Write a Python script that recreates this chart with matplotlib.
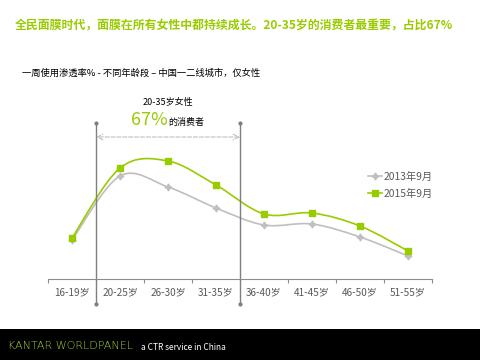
import matplotlib.pyplot as plt
import numpy as np
from matplotlib.path import Path
from matplotlib.patches import PathPatch, Rectangle
from matplotlib.lines import Line2D

plt.rcParams['font.family'] = ['Noto Sans CJK SC', 'DejaVu Sans']

age_groups = ["16-19岁", "20-25岁", "26-30岁", "31-35岁", "36-40岁", "41-45岁", "46-50岁", "51-55岁"]
pen_2013 = [19.5, 51.5, 46.0, 35.5, 27.0, 27.5, 21.0, 11.5]
pen_2015 = [20.5, 55.5, 59.0, 47.0, 32.5, 33.0, 26.5, 14.0]
series_names = ["2013年9月", "2015年9月"]

GREEN = "#99CC00"
GREY = "#BFBFBF"
TEXT = "#595959"


def smooth_path(xs, ys):
    # excel-like smoothed line: catmull-rom segments as cubic beziers
    pts = np.column_stack([xs, ys]).astype(float)
    n = len(pts)
    verts = [pts[0]]
    codes = [Path.MOVETO]
    for i in range(n - 1):
        p0 = pts[max(i - 1, 0)]
        p1 = pts[i]
        p2 = pts[i + 1]
        p3 = pts[min(i + 2, n - 1)]
        c1 = p1 + (p2 - p0) / 6.0
        c2 = p2 - (p3 - p1) / 6.0
        verts += [c1, c2, p2]
        codes += [Path.CURVE4] * 3
    return Path(verts, codes)


fig = plt.figure(figsize=(4.81, 3.6), dpi=100)
ax = fig.add_axes([48 / 481, 81 / 360, 384 / 481, 160 / 360])

x = np.arange(len(age_groups))
ax.add_patch(PathPatch(smooth_path(x, pen_2013), fill=False, edgecolor=GREY, lw=1.2))
ax.add_patch(PathPatch(smooth_path(x, pen_2015), fill=False, edgecolor=GREEN, lw=1.2))
ax.plot(x, pen_2013, linestyle='none', marker=(4, 1, 0), markersize=5, color=GREY)
ax.plot(x, pen_2015, linestyle='none', marker='s', markersize=4.5, color=GREEN)

ax.set_xlim(-0.5, len(age_groups) - 0.5)
ax.set_ylim(0, 80)
for side in ['top', 'right', 'left']:
    ax.spines[side].set_visible(False)
ax.spines['bottom'].set_color('#8C8C8C')
ax.set_yticks([])
ax.set_xticks(np.arange(len(age_groups) + 1) - 0.5, minor=False)
ax.set_xticklabels([])
ax.set_xticks(x, minor=True)
ax.set_xticklabels(age_groups, minor=True, fontsize=7.2, color=TEXT)
ax.tick_params(axis='x', which='major', length=3, color='#8C8C8C')
ax.tick_params(axis='x', which='minor', length=0, pad=6)

# 20-35 bracket lines
for bx in [0.5, 3.5]:
    ax.plot([bx, bx], [-12.5, 78], color='#7F7F7F', lw=1, clip_on=False,
            marker='o', markersize=2, markevery=[0, 1])
ax.annotate("", xy=(0.5, 71), xytext=(3.5, 71), annotation_clip=False,
            arrowprops=dict(arrowstyle='<->', color='#BFBFBF', lw=0.8, ls='--',
                            shrinkA=0, shrinkB=0))

handles = [Line2D([], [], color=GREY, marker=(4, 1, 0), markersize=5, lw=1.2),
           Line2D([], [], color=GREEN, marker='s', markersize=4.5, lw=1.2)]
ax.legend(handles, series_names, loc='center left', bbox_to_anchor=(0.81, 0.585),
          frameon=False, fontsize=7.4, labelcolor=TEXT, handlelength=1.3,
          handletextpad=0.2, labelspacing=0.65)

fig.text(15 / 481, 1 - 26 / 360, "全民面膜时代，面膜在所有女性中都持续成长。20-35岁的消费者最重要，占比67%",
         color=GREEN, fontsize=8.6, fontweight='bold', va='center', ha='left')
fig.text(22 / 481, 1 - 73 / 360, "一周使用渗透率% - 不同年龄段 – 中国一二线城市，仅女性",
         color='black', fontsize=6.7, va='center', ha='left')
fig.text(168 / 481, 1 - 102 / 360, "20-35岁女性", fontsize=6.5, ha='center', va='center')
fig.text(168 / 481, 1 - 125 / 360, "67%", fontsize=13, color=GREEN, ha='right', va='baseline')
fig.text(168 / 481, 1 - 125 / 360, "的消费者", fontsize=6.5, ha='left', va='baseline')

# footer band
fig.add_artist(Rectangle((0, 0), 1, 31 / 360, transform=fig.transFigure,
                         facecolor='black', edgecolor='none'))
fig.text(8 / 481, 14 / 360, "KANTAR WORLDPANEL", color='#A6CE39', fontsize=8,
         ha='left', va='center', family='DejaVu Sans', fontweight='light')
fig.text(141 / 481, 13 / 360, "a CTR service in China", color='white', fontsize=6,
         ha='left', va='center')

fig.savefig("out.png", dpi=100)
